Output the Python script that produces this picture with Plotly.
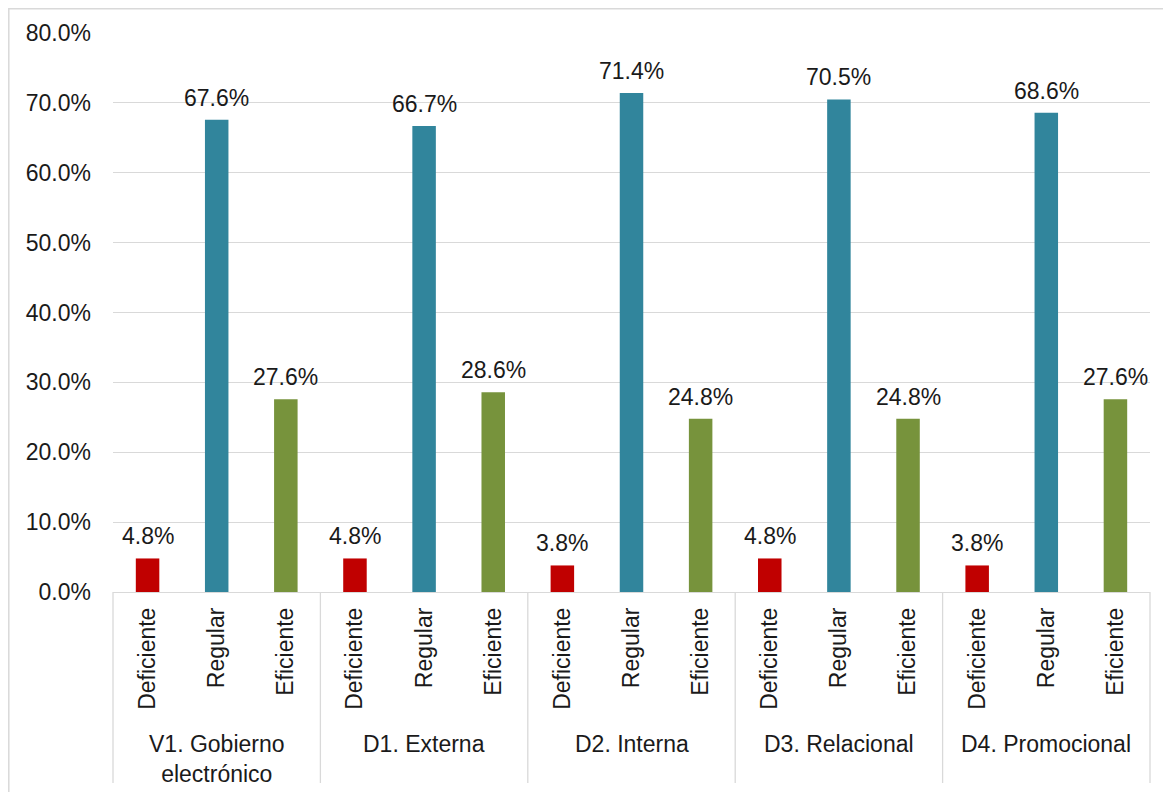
import plotly.graph_objects as go

groups = ["V1. Gobierno<br>electrónico", "D1. Externa", "D2. Interna", "D3. Relacional", "D4. Promocional"]
categories = ["Deficiente", "Regular", "Eficiente"]
deficiente = [4.8, 4.8, 3.8, 4.8, 3.8]
regular = [67.6, 66.7, 71.4, 70.5, 68.6]
eficiente = [27.6, 28.6, 24.8, 24.8, 27.6]
colors = ["#C00000", "#31859C", "#77933C"]
y_ticks = [0, 10, 20, 30, 40, 50, 60, 70, 80]

W, H = 1171, 792
OFF = 8  # page body margin
ML, MR, MT = 105, 29, 25
PW = W - ML - MR
PH = 559
MB = H - MT - PH
PLOT_LEFT_PAGE = ML + OFF
PLOT_BOTTOM_PAGE = MT + PH + OFF
FONT = "Liberation Sans, Arial, sans-serif"
FS = 23
TXT = "#1a1a1a"

series = [deficiente, regular, eficiente]
ncat = len(categories)
nslots = len(groups) * ncat

fig = go.Figure()
for ci, (name, vals) in enumerate(zip(categories, series)):
    xs = [gi * ncat + ci for gi in range(len(groups))]
    ys = [v / 100 for v in vals]
    fig.add_trace(go.Bar(
        x=xs, y=ys, name=name, width=0.34,
        marker=dict(color=colors[ci], line=dict(width=0)),
        showlegend=False,
    ))
    for x, y, v in zip(xs, ys, vals):
        fig.add_annotation(x=x, y=y, xref="x", yref="y", text=f"{v:.1f}%",
                           showarrow=False, yanchor="bottom", xanchor="center",
                           yshift=7, font=dict(family=FONT, size=FS, color=TXT))

tickvals = list(range(nslots))
ticktext = [categories[i % ncat] for i in tickvals]

fig.update_layout(
    width=W, height=H, barmode="overlay",
    margin=dict(l=ML, r=MR, t=MT, b=MB, autoexpand=False),
    paper_bgcolor="white", plot_bgcolor="white",
    font=dict(family=FONT, size=FS, color=TXT),
    xaxis=dict(range=[-0.5, nslots - 0.5], tickvals=tickvals, ticktext=ticktext,
               tickangle=-90, showgrid=False, zeroline=False, showline=False,
               ticks="", ticklabelstandoff=10,
               tickfont=dict(family=FONT, size=FS, color=TXT)),
    yaxis=dict(range=[0, 0.8], tickvals=[v / 100 for v in y_ticks],
               tickformat=".1%", showgrid=True, gridcolor="#D9D9D9", gridwidth=1.3,
               zeroline=True, zerolinecolor="#D9D9D9", zerolinewidth=1.3,
               showline=False, ticks="", ticklabelstandoff=21,
               tickfont=dict(family=FONT, size=FS, color=TXT)),
)

# separators between groups
sep_bottom = -(783 - PLOT_BOTTOM_PAGE) / PH
for k in range(len(groups) + 1):
    xp = (k * ncat) / nslots
    fig.add_shape(type="line", xref="paper", yref="paper", x0=xp, x1=xp, y0=0, y1=sep_bottom,
                  line=dict(color="#D9D9D9", width=1.3))

# group labels
for gi, g in enumerate(groups):
    fig.add_annotation(x=(gi * ncat + ncat / 2) / nslots, y=-(729 - PLOT_BOTTOM_PAGE) / PH,
                       xref="paper", yref="paper", text=g, showarrow=False,
                       yanchor="top", xanchor="center",
                       font=dict(family=FONT, size=FS, color=TXT))

# outer border
fig.add_shape(type="rect", xref="paper", yref="paper",
              x0=(OFF + 0.8 - PLOT_LEFT_PAGE) / PW, x1=(W + 20 - PLOT_LEFT_PAGE) / PW,
              y0=-(H + 20 - PLOT_BOTTOM_PAGE) / PH, y1=(PLOT_BOTTOM_PAGE - OFF - 0.8) / PH,
              line=dict(color="#D9D9D9", width=1.5), fillcolor="rgba(0,0,0,0)", layer="below")

fig.write_html("out.html")
